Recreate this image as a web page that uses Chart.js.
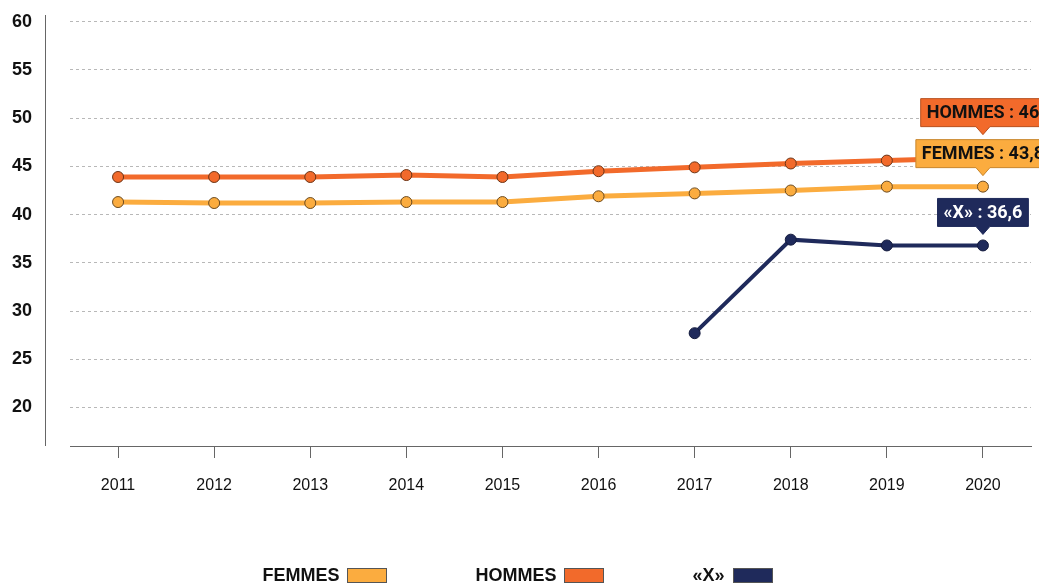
<!DOCTYPE html>
<html lang="fr">
<head>
<meta charset="utf-8">
<title>FEMMES / HOMMES / «X»</title>
<script src="https://cdn.jsdelivr.net/npm/chart.js@4.4.1/dist/chart.umd.min.js"></script>
<style>
  html, body { margin: 0; padding: 0; background: #fff; overflow: hidden; }
  #wrap { position: relative; width: 1039px; height: 586px; }
  #legend {
    position: absolute; left: 0; right: 0; top: 566px;
    display: flex; justify-content: center; gap: 88px;
    padding-right: 4px;
    font: bold 18px "Liberation Sans", Arial, sans-serif; color: #111;
  }
  #legend .item { display: flex; align-items: center; gap: 8px; line-height: 18px; }
  #legend .box { width: 38px; height: 13px; border: 1px solid #555; }
</style>
</head>
<body>
<div id="wrap">
  <canvas id="chart"></canvas>
  <div id="legend"></div>
</div>
<script>
const years = ['2011', '2012', '2013', '2014', '2015', '2016', '2017', '2018', '2019', '2020'];
const femmes = [41.3, 41.2, 41.2, 41.3, 41.3, 41.9, 42.2, 42.5, 42.9, 42.9];
const hommes = [43.9, 43.9, 43.9, 44.1, 43.9, 44.5, 44.9, 45.3, 45.6, 45.9];
const autres = [null, null, null, null, null, null, 27.7, 37.4, 36.8, 36.8];
const yTicks = [20, 25, 30, 35, 40, 45, 50, 55, 60];

const seriesNames = ['FEMMES', 'HOMMES', '«X»'];
const seriesColors = ['#fbac3f', '#f26a2b', '#1f2a5b'];
const pointEdges = ['#6b4a1f', '#6b3416', '#141b3d'];
const calloutEdges = ['#c8862c', '#b9501f', '#1f2a5b'];
const calloutInk = ['#111', '#111', '#fff'];
// values printed in the callouts at the last year
const calloutValues = ['43,8', '46', '36,6'];

// y axis line sits a bit left of the plot area
const yAxisLine = {
  id: 'yAxisLine',
  beforeDatasetsDraw(chart) {
    const { ctx, chartArea } = chart;
    ctx.save();
    ctx.strokeStyle = '#666';
    ctx.lineWidth = 1;
    ctx.beginPath();
    ctx.moveTo(chartArea.left - 24.5, chartArea.top);
    ctx.lineTo(chartArea.left - 24.5, chartArea.bottom);
    ctx.stroke();
    ctx.restore();
  }
};

// value boxes above the last point of each series, stacked so they don't overlap
const callouts = {
  id: 'callouts',
  afterDatasetsDraw(chart) {
    const ctx = chart.ctx;
    const items = chart.data.datasets.map((ds, i) => {
      const pts = chart.getDatasetMeta(i).data;
      const pt = pts[pts.length - 1];
      return { i, x: pt.x, y: pt.y };
    }).sort((a, b) => b.y - a.y);

    ctx.save();
    ctx.font = '700 18px Roboto';
    ctx.textAlign = 'center';
    ctx.textBaseline = 'middle';
    let prevTop = Infinity;
    items.forEach(it => {
      const text = `${seriesNames[it.i]} : ${calloutValues[it.i]}`;
      const w = ctx.measureText(text).width + 12;
      const tip = Math.min(it.y - 11, prevTop - 5);
      const bottom = tip - 8, top = bottom - 28;
      const l = it.x - w / 2, r = it.x + w / 2;
      ctx.beginPath();
      ctx.moveTo(l, top);
      ctx.lineTo(r, top);
      ctx.lineTo(r, bottom);
      ctx.lineTo(it.x + 7, bottom);
      ctx.lineTo(it.x, tip);
      ctx.lineTo(it.x - 7, bottom);
      ctx.lineTo(l, bottom);
      ctx.closePath();
      ctx.fillStyle = seriesColors[it.i];
      ctx.fill();
      ctx.strokeStyle = calloutEdges[it.i];
      ctx.lineWidth = 1;
      ctx.stroke();
      ctx.fillStyle = calloutInk[it.i];
      ctx.fillText(text, it.x, (top + bottom) / 2 + 1);
      prevTop = top;
    });
    ctx.restore();
  }
};

function line(i, data) {
  return {
    label: seriesNames[i],
    data,
    borderColor: seriesColors[i],
    backgroundColor: seriesColors[i],
    borderWidth: i === 2 ? 4 : 5,
    pointRadius: 5.5,
    pointHoverRadius: 5.5,
    pointBackgroundColor: seriesColors[i],
    pointBorderColor: pointEdges[i],
    pointBorderWidth: 1,
    tension: 0,
  };
}

new Chart(document.getElementById('chart'), {
  type: 'line',
  data: {
    labels: years,
    datasets: [line(0, femmes), line(1, hommes), line(2, autres)],
  },
  options: {
    responsive: true,
    maintainAspectRatio: false,
    animation: false,
    layout: { padding: { top: 15, right: 8, left: 12, bottom: 90 } },
    scales: {
      x: {
        offset: true,
        afterFit: s => { s.height = 50; },
        grid: { drawOnChartArea: false, drawTicks: true, tickLength: 12, color: '#666' },
        border: { display: true, color: '#666' },
        ticks: { padding: 18, color: '#111', font: { family: 'Liberation Sans', size: 16 } },
      },
      y: {
        min: 16,
        max: 60.7,
        afterBuildTicks: s => { s.ticks = yTicks.map(v => ({ value: v })); },
        afterFit: s => { s.width = 58; },
        grid: { color: '#b8b8b8', lineWidth: 1, drawTicks: false },
        border: { display: false, dash: [3, 3] },
        ticks: {
          padding: 0,
          crossAlign: 'far',
          color: '#111',
          font: { family: 'Liberation Sans', size: 18, weight: 'bold' },
        },
      },
    },
    plugins: {
      tooltip: { enabled: false },
      legend: { display: false },
    },
  },
  plugins: [yAxisLine, callouts],
});

document.getElementById('legend').innerHTML = seriesNames.map((name, i) =>
  `<span class="item"><span>${name}</span><span class="box" style="background:${seriesColors[i]}"></span></span>`
).join('');
</script>
</body>
</html>
